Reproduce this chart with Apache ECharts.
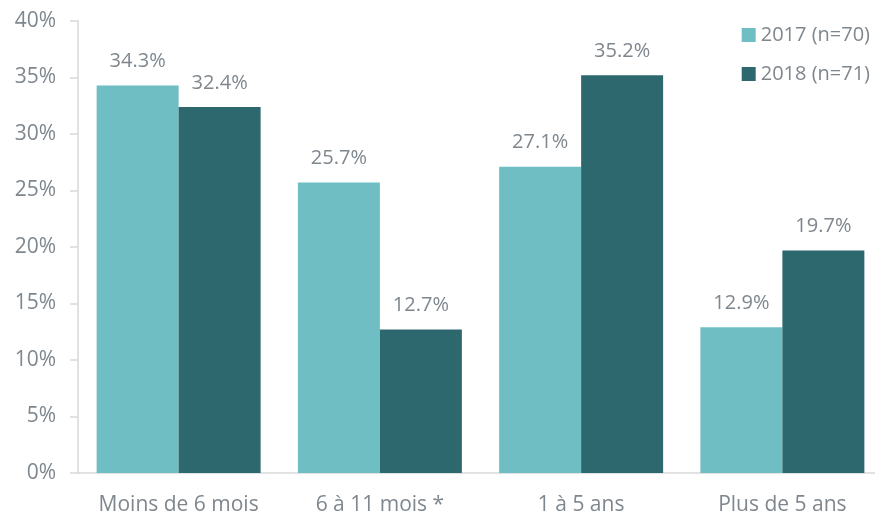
<!DOCTYPE html>
<html>
<head>
<meta charset="utf-8">
<script src="https://cdn.jsdelivr.net/npm/echarts@6/dist/echarts.min.js"></script>
<style>
  html, body { margin: 0; padding: 0; background: #fff; overflow: hidden; }
  #chart { width: 885px; height: 516px; }
</style>
</head>
<body>
<div id="chart"></div>
<script>
// données
const categories = ['Moins de 6 mois', '6 à 11 mois *', '1 à 5 ans', 'Plus de 5 ans'];
const values2017 = [34.3, 25.7, 27.1, 12.9];
const values2018 = [32.4, 12.7, 35.2, 19.7];
const seriesNames = ['2017 (n=70)', '2018 (n=71)'];

const textColor = '#7f878e';
const font = 'Open Sans';

// le conteneur déborde de 10px à droite (l'axe x est coupé dans l'original)
let chart = echarts.init(document.getElementById('chart'));

const label = {
  show: true,
  position: 'top',
  distance: 14,
  color: textColor,
  fontFamily: font,
  fontSize: 20,
  formatter: p => p.value.toFixed(1) + '%'
};

chart.setOption({
  animation: false,
  textStyle: { fontFamily: font },
  grid: { left: 78, top: 21, right: 2, bottom: 43 },
  legend: {
    orient: 'vertical',
    right: 10,
    top: 20,
    icon: 'rect',
    itemWidth: 14,
    itemHeight: 14,
    itemGap: 19,
    textStyle: { color: textColor, fontSize: 20, fontFamily: font }
  },
  xAxis: {
    type: 'category',
    data: categories,
    axisLine: { lineStyle: { color: '#d9d9d9', width: 1.5 } },
    axisTick: { show: false },
    axisLabel: { interval: 0, color: textColor, fontSize: 21, fontFamily: font, margin: 22 }
  },
  yAxis: {
    type: 'value',
    min: 0,
    max: 40,
    interval: 5,
    splitLine: { show: false },
    axisLine: { show: true, lineStyle: { color: '#d9d9d9', width: 1.5 } },
    axisTick: { show: true, length: 8, lineStyle: { color: '#d9d9d9', width: 1.5 } },
    axisLabel: { color: textColor, fontSize: 21, fontFamily: font, margin: 22, formatter: '{value}%' }
  },
  series: [
    {
      name: seriesNames[0],
      type: 'bar',
      data: values2017,
      barWidth: 82,
      barGap: '0%',
      itemStyle: { color: '#6fbec4' },
      label: label
    },
    {
      name: seriesNames[1],
      type: 'bar',
      data: values2018,
      barWidth: 82,
      barGap: '0%',
      itemStyle: { color: '#2d686e' },
      label: label
    }
  ]
});
</script>
</body>
</html>
